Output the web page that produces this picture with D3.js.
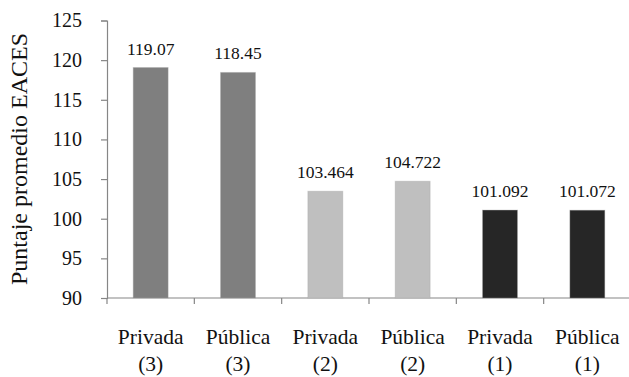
<!DOCTYPE html>
<html><head><meta charset="utf-8">
<script src="https://cdn.jsdelivr.net/npm/d3@7"></script>
<style>
html,body{margin:0;padding:0;background:#fff;}
svg{display:block;}
svg text{font-family:"Liberation Serif",serif !important;fill:#111;}
</style></head>
<body>
<svg id="chart" width="629" height="377"></svg>
<script>
const categories = ["Privada (3)", "Pública (3)", "Privada (2)", "Pública (2)", "Privada (1)", "Pública (1)"];
const labelLine1 = ["Privada", "Pública", "Privada", "Pública", "Privada", "Pública"];
const labelLine2 = ["(3)", "(3)", "(2)", "(2)", "(1)", "(1)"];
const values = [119.07, 118.45, 103.464, 104.722, 101.092, 101.072];
const valueLabels = ["119.07", "118.45", "103.464", "104.722", "101.092", "101.072"];
const groups = [3, 3, 2, 2, 1, 1];
const groupColors = {3: "#7f7f7f", 2: "#bfbfbf", 1: "#262626"};
const yTicks = [90, 95, 100, 105, 110, 115, 120, 125];
const yTitle = "Puntaje promedio EACES";

const FONT = "'Liberation Serif', serif";
const svg = d3.select("#chart");
const mLeft = 107, mRight = 631, mTop = 20.5, mBottom = 298;

const x = d3.scaleBand().domain(categories).range([mLeft, mRight]).paddingInner(0.6).paddingOuter(0.3);
const xb = d3.scaleBand().domain(categories).range([mLeft, mRight]);
const y = d3.scaleLinear().domain([90, 125]).range([mBottom, mTop]);

const axisColor = "#868686";

// y axis
const yAxis = svg.append("g").attr("transform", `translate(${mLeft},0)`)
  .call(d3.axisLeft(y).tickValues(yTicks).tickSize(6).tickPadding(19).tickFormat(d3.format("d")));
yAxis.attr("font-family", FONT);
yAxis.select(".domain").attr("stroke", axisColor).attr("stroke-width", 1.2);
yAxis.selectAll(".tick line").attr("stroke", axisColor).attr("stroke-width", 1.2);
yAxis.selectAll(".tick text").attr("font-size", 20).style("font-family", FONT).attr("fill", "#111");

// x axis line with boundary ticks
const xg = svg.append("g");
xg.append("line").attr("x1", mLeft).attr("x2", mRight).attr("y1", mBottom).attr("y2", mBottom)
  .attr("stroke", axisColor).attr("stroke-width", 1.2);
xg.selectAll("line.bt").data(categories).enter().append("line").attr("class", "bt")
  .attr("x1", d => xb(d)).attr("x2", d => xb(d)).attr("y1", mBottom).attr("y2", mBottom + 6)
  .attr("stroke", axisColor).attr("stroke-width", 1.2);

// bars
svg.append("g").selectAll("rect").data(categories).enter().append("rect")
  .attr("x", d => x(d)).attr("width", x.bandwidth())
  .attr("y", (d, i) => y(values[i])).attr("height", (d, i) => mBottom - y(values[i]))
  .attr("fill", (d, i) => groupColors[groups[i]])
  .attr("stroke", "#a0a0a0").attr("stroke-opacity", 0.35).attr("stroke-width", 1);

// value labels
svg.append("g").selectAll("text").data(categories).enter().append("text")
  .attr("x", d => x(d) + x.bandwidth() / 2).attr("y", (d, i) => y(values[i]) - 13)
  .attr("text-anchor", "middle").attr("font-size", 17.5).style("font-family", FONT)
  .text((d, i) => valueLabels[i]);

// x labels
const xl = svg.append("g");
xl.selectAll("text.l1").data(categories).enter().append("text").attr("class", "l1")
  .attr("x", d => xb(d) + xb.bandwidth() / 2).attr("y", 344)
  .attr("text-anchor", "middle").attr("font-size", 21.5).style("font-family", FONT)
  .text((d, i) => labelLine1[i]);
xl.selectAll("text.l2").data(categories).enter().append("text").attr("class", "l2")
  .attr("x", d => xb(d) + xb.bandwidth() / 2).attr("y", 371)
  .attr("text-anchor", "middle").attr("font-size", 21.5).style("font-family", FONT)
  .text((d, i) => labelLine2[i]);

// y title
svg.append("text").attr("transform", "translate(27,159) rotate(-90)")
  .attr("text-anchor", "middle").attr("font-size", 24).style("font-family", FONT)
  .text(yTitle);
</script>
</body></html>
